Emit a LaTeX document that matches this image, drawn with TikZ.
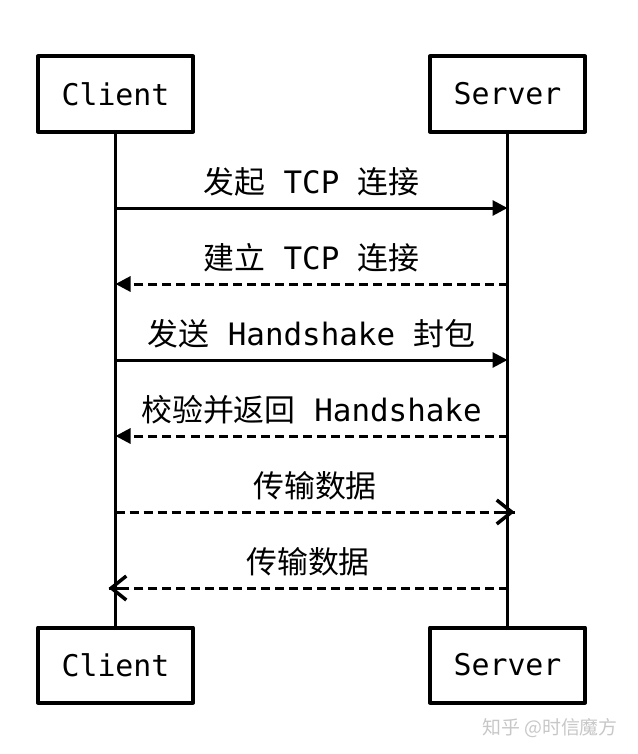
\documentclass[tikz,border=0pt]{standalone}
\usepackage{fontspec}
\setmainfont{DejaVu Sans Mono}
\newfontfamily\cjk{Noto Sans CJK SC}
\usetikzlibrary{arrows.meta}
\tikzset{
  actor/.style={draw, line width=4bp, minimum width=155bp, minimum height=75bp, font=\fontsize{30}{32}\selectfont},
  life/.style={line width=3.5bp},
  msg/.style={line width=3bp},
  reply/.style={msg, dash pattern=on 9bp off 5bp},
  full/.style={-{Triangle[length=15bp,width=15bp]}},
  barb/.style={msg, solid, shorten <=380bp, -{Straight Barb[length=15bp,width=24bp,line width=3.5bp]}},
  lbl/.style={anchor=base, yshift=15bp, font=\fontsize{31}{33}\selectfont},
}
\begin{document}
\begin{tikzpicture}[x=1bp, y=-1bp, line join=round]
		\useasboundingbox (0,0) rectangle (638,754);
		% actors
		\node[actor] (ct) at (115.5,94) {Client};
		\node[actor] (st) at (507.5,94) {Server};
		\node[actor] (cb) at (115.5,665) {Client};
		\node[actor] (sb) at (507.5,665) {Server};
		\draw[life] (ct) -- (cb);
		\draw[life] (st) -- (sb);
		% message ends on the lifelines
		\coordinate (c1) at (115.5,208); \coordinate (s1) at (507.5,208);
		\coordinate (c2) at (115.5,284); \coordinate (s2) at (507.5,284);
		\coordinate (c3) at (115.5,360); \coordinate (s3) at (507.5,360);
		\coordinate (c4) at (115.5,436); \coordinate (s4) at (507.5,436);
		\coordinate (c5) at (115.5,512); \coordinate (s5) at (514.5,512);
		\coordinate (c6) at (108.5,588); \coordinate (s6) at (507.5,588);
		% messages
		\draw[msg,full] (c1) -- node[lbl] (m1) {{\cjk 发起} TCP {\cjk 连接}} (s1);
		\draw[reply,full] (s2) -- node[lbl] (m2) {{\cjk 建立} TCP {\cjk 连接}} (c2);
		\draw[msg,full] (c3) -- node[lbl] (m3) {{\cjk 发送} Handshake {\cjk 封包}} (s3);
		\draw[reply,full] (s4) -- node[lbl] (m4) {{\cjk 校验并返回} Handshake} (c4);
		\draw[reply] (c5) -- node[lbl] (m5) {\cjk 传输数据} (s5);
		\draw[reply] (s6) -- node[lbl] (m6) {\cjk 传输数据} (c6);
		% open tips drawn solid
		\draw[barb] (c5) -- (s5);
		\draw[barb] (s6) -- (c6);
		% watermark
		\node[text=black!22, font=\fontsize{19}{20}\selectfont\cjk] (mark) at (550,728) {知乎 @时信魔方};
\end{tikzpicture}
\end{document}
